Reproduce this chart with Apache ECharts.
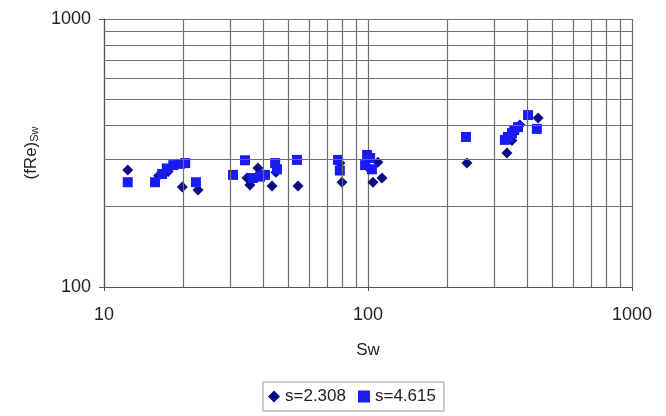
<!DOCTYPE html>
<html><head><meta charset="utf-8">
<script src="https://cdn.jsdelivr.net/npm/echarts@6/dist/echarts.min.js"></script>
<style>html,body{margin:0;padding:0;background:#fff}#c{width:666px;height:416px}</style>
</head><body><div id="c"></div>
<script>
// Series: s=2.308 (diamonds) [Sw, (fRe)Sw]
var seriesA = [
  [12.3,273],[16.1,260],[17.5,270],[19.8,236],[22.7,230],
  [34.8,255],[35.7,240],[38.3,278],[43.3,238],[44.8,268],[54.3,238],
  [78.2,290],[79.7,246],[104.4,246],[109,292],[113,255],[100,280],
  [237,290],[336,316],[351,352],[376,402],[441,427]
];
// Series: s=4.615 (squares)
var seriesB = [
  [12.3,246],[15.6,246],[16.6,264],[17.3,277],[18.3,285],[19.4,288],[20.3,290],[22.3,246],
  [30.8,262],[34.2,297],[36.6,255],[39,258],[40.7,262],[44.5,290],[45.2,275],[53.8,298],
  [77,298],[78.2,272],[99.2,311],[101.9,303],[103.5,275],[97.5,285],
  [235,363],[330,354],[339,363],[351,375],[358,385],[370,395],[404,438],[436,389]
];
var seriesNames = ['s=2.308','s=4.615'];
var xTickLabels = [10,100,1000];
var yTickLabels = [100,1000];
var xMinorGrid = [20,30,40,50,60,70,80,90,200,300,400,500,600,700,800,900];
var yMinorGrid = [200,300,400,500,600,700,800,900];

var font = 'Liberation Sans, Arial, sans-serif';
var gridColor = '#6e6e6e';
var mlData = xMinorGrid.map(function(v){return {xAxis:v};})
  .concat(yMinorGrid.map(function(v){return {yAxis:v};}));

var chart = echarts.init(document.getElementById('c'));
chart.setOption({
  animation:false,
  backgroundColor:'#fff',
  grid:{left:104,right:34,top:19,bottom:129},
  xAxis:{type:'log',logBase:10,min:xTickLabels[0],max:xTickLabels[2],
    name:'Sw',nameLocation:'middle',nameGap:55,
    nameTextStyle:{fontFamily:font,fontSize:17,color:'#222'},
    axisLine:{lineStyle:{color:'#555',width:1.2}},
    axisTick:{show:true,length:4,lineStyle:{color:'#555'}},
    axisLabel:{fontFamily:font,fontSize:18,color:'#222',margin:19,
      formatter:function(v){return String(Math.round(v));}},
    splitLine:{show:true,lineStyle:{color:gridColor,width:1.2}}
  },
  yAxis:{type:'log',logBase:10,min:yTickLabels[0],max:yTickLabels[1],
    name:'{a|(fRe)}{b|Sw}',nameLocation:'middle',nameGap:62,nameRotate:90,
    nameTextStyle:{rich:{a:{fontFamily:font,fontSize:17,color:'#222'},
      b:{fontFamily:font,fontSize:11,color:'#222',verticalAlign:'bottom',padding:[7,0,0,0]}}},
    axisLine:{show:true,lineStyle:{color:'#555',width:1.2}},
    axisTick:{show:true,length:5,lineStyle:{color:'#555'}},
    axisLabel:{fontFamily:font,fontSize:18,color:'#222',margin:13,
      formatter:function(v){return String(Math.round(v));}},
    splitLine:{show:true,lineStyle:{color:gridColor,width:1.2}}
  },
  legend:{data:[{name:seriesNames[0],icon:'diamond'},{name:seriesNames[1],icon:'rect'}],
    left:263,top:382,orient:'horizontal',
    borderColor:'#999',borderWidth:1,padding:[6,8,6,5],
    itemWidth:12,itemHeight:12,itemGap:12,
    textStyle:{fontFamily:font,fontSize:17,color:'#222'}},
  series:[
    {name:'grid',type:'scatter',data:[],z:1,silent:true,
      markLine:{silent:true,symbol:'none',animation:false,label:{show:false},
        lineStyle:{color:gridColor,width:1.2,type:'solid'},emphasis:{disabled:true},data:mlData}},
    {name:seriesNames[0],type:'scatter',symbol:'diamond',symbolSize:11,z:3,
      itemStyle:{color:'#0c0c82',opacity:1},data:seriesA},
    {name:seriesNames[1],type:'scatter',symbol:'rect',symbolSize:10,z:4,
      itemStyle:{color:'#1a1af2',opacity:1},data:seriesB}
  ]
});
</script></body></html>
